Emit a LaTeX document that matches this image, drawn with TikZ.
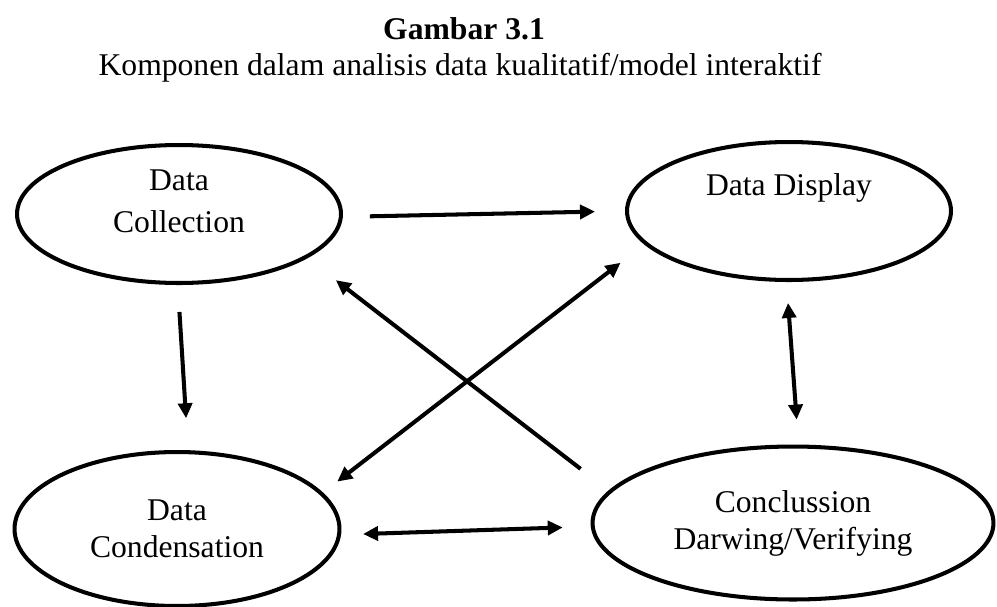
\documentclass[tikz,border=0pt]{standalone}
\usepackage{fontspec}
\setmainfont{Liberation Serif}
\usetikzlibrary{arrows.meta,shapes.geometric}

\begin{document}
\begin{tikzpicture}[x=0.02cm,y=-0.02cm,
    every node/.style={font=\fontsize{18}{21}\selectfont},
    stage/.style={draw,ellipse,line width=2.3pt,align=center,inner sep=0pt},
    arr/.style={line width=2.3pt,-{Triangle[length=0.3cm,width=0.28cm]}},
    dblarr/.style={line width=2.3pt,{Triangle[length=0.3cm,width=0.28cm]}-{Triangle[length=0.3cm,width=0.28cm]}}]
    \useasboundingbox (0,0) rectangle (997,606);
    \clip (0,0) rectangle (997,606);

    % judul
    \node[anchor=base] (title) at (464,39) {\textbf{Gambar 3.1}};
    \node[anchor=base] (subtitle) at (460,75) {Komponen dalam analisis data kualitatif/model interaktif};

    % komponen
    \node[stage,minimum width=6.48cm,minimum height=2.76cm,text depth=0.52cm] (collection) at (179,214) {Data\\[3pt]Collection};
    \node[stage,minimum width=6.48cm,minimum height=2.76cm,text depth=1.06cm] (display) at (789,211) {Data Display};
    \node[stage,minimum width=6.5cm,minimum height=3.08cm] (condensation) at (177,529) {Data\\Condensation};
    \node[stage,minimum width=8.02cm,minimum height=3.06cm] (conclusion) at (793,523) {Conclussion\\Darwing/Verifying};

    % alur
    \draw[arr,shorten <=0.54cm,shorten >=0.6cm] (collection.-1) -- (display.180);
    \draw[arr,shorten <=0.54cm,shorten >=0.64cm] (collection.-91) -- (condensation.82);
    \draw[arr,shorten <=0.71cm,shorten >=0.72cm] (conclusion.170) -- (collection.-19);
    \draw[dblarr,shorten <=0.6cm,shorten >=0.36cm] (display.193) -- (condensation.14);
    \draw[dblarr,shorten <=0.44cm,shorten >=0.56cm] (condensation.-2) -- (conclusion.181);
    \draw[dblarr,shorten <=0.42cm,shorten >=0.5cm] (display.-92) -- (conclusion.86);
\end{tikzpicture}
\end{document}
